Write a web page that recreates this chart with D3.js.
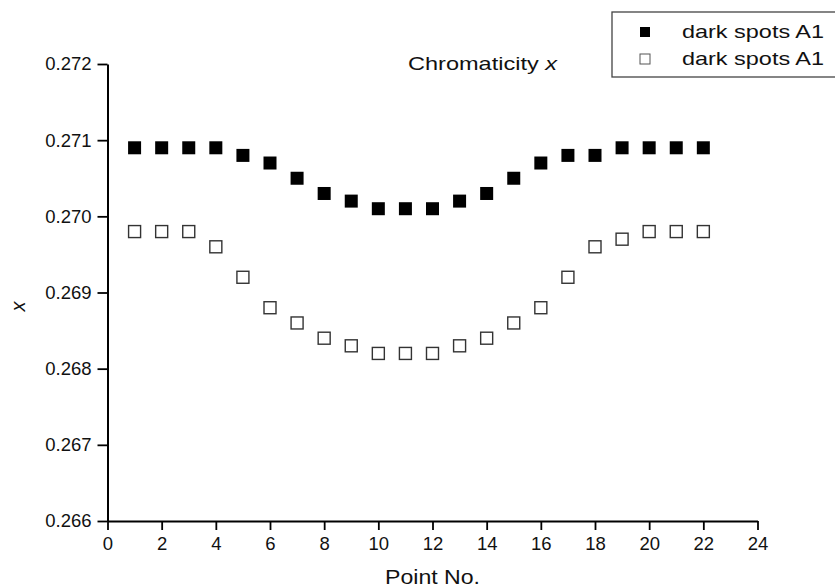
<!DOCTYPE html>
<html>
<head>
<meta charset="utf-8">
<script src="https://cdn.jsdelivr.net/npm/d3@7"></script>
<style>
  html, body { margin: 0; padding: 0; background: #fff; }
  svg { display: block; font-family: "Liberation Sans", Arial, sans-serif; }
</style>
</head>
<body>
<svg id="chart" width="835" height="588"></svg>
<script>
// Point numbers along the measured line
const points = [1,2,3,4,5,6,7,8,9,10,11,12,13,14,15,16,17,18,19,20,21,22];
// Chromaticity x, filled-square series
const filledX = [0.2709,0.2709,0.2709,0.2709,0.2708,0.2707,0.2705,0.2703,0.2702,0.2701,0.2701,
                 0.2701,0.2702,0.2703,0.2705,0.2707,0.2708,0.2708,0.2709,0.2709,0.2709,0.2709];
// Chromaticity x, open-square series
const openX = [0.2698,0.2698,0.2698,0.2696,0.2692,0.2688,0.2686,0.2684,0.2683,0.2682,0.2682,
               0.2682,0.2683,0.2684,0.2686,0.2688,0.2692,0.2696,0.2697,0.2698,0.2698,0.2698];
const seriesNames = ["dark spots A1", "dark spots A1"];
const xTicks = [0,2,4,6,8,10,12,14,16,18,20,22,24];
const yTicks = [0.266,0.267,0.268,0.269,0.270,0.271,0.272];

const svg = d3.select("#chart");

const x = d3.scaleLinear().domain([0, 24]).range([107.5, 757.5]);
const y = d3.scaleLinear().domain([0.266, 0.272]).range([521, 64]);

// X axis: major ticks every 2, minor ticks on odd numbers
const xMinor = d3.range(1, 24, 2);
const gx = svg.append("g").attr("transform", `translate(0,${y.range()[0]})`);
gx.call(d3.axisBottom(x).tickValues(xMinor).tickSize(5).tickFormat(""))
  .call(g => g.select(".domain").remove());
gx.call(d3.axisBottom(x).tickValues(xTicks).tickSize(9).tickSizeOuter(0).tickPadding(7).tickFormat(d3.format("d")));
gx.selectAll("line").attr("stroke", "#000").attr("stroke-width", 1.8);
gx.selectAll(".domain").attr("stroke", "#000").attr("stroke-width", 2);
gx.selectAll("text").attr("font-size", 18.5).attr("fill", "#111");

// Y axis: major ticks every 0.001, minor ticks halfway
const yMinor = d3.range(0.2665, 0.272, 0.001);
const gy = svg.append("g").attr("transform", `translate(${x.range()[0]},0)`);
gy.call(d3.axisLeft(y).tickValues(yMinor).tickSize(6).tickFormat(""))
  .call(g => g.select(".domain").remove());
gy.call(d3.axisLeft(y).tickValues(yTicks).tickSize(10).tickSizeOuter(0).tickPadding(6).tickFormat(d3.format(".3f")));
gy.selectAll("line").attr("stroke", "#000").attr("stroke-width", 1.8);
gy.selectAll(".domain").attr("stroke", "#000").attr("stroke-width", 2);
gy.selectAll("text").attr("font-size", 18.5).attr("fill", "#111");

// Axis titles
svg.append("text")
  .attr("x", 385)
  .attr("y", 584)
  .attr("font-size", 20)
  .attr("fill", "#111")
  .attr("textLength", 95)
  .attr("lengthAdjust", "spacingAndGlyphs")
  .text("Point No.");

svg.append("text")
  .attr("transform", `translate(25,${(y.range()[0] + y.range()[1]) / 2 + 14}) rotate(-90)`)
  .attr("text-anchor", "middle")
  .attr("font-size", 20)
  .attr("font-style", "italic")
  .attr("fill", "#111")
  .text("x");

// Panel title
const title = svg.append("text")
  .attr("x", 408)
  .attr("y", 70)
  .attr("font-size", 19)
  .attr("fill", "#111")
  .attr("textLength", 149)
  .attr("lengthAdjust", "spacingAndGlyphs");
title.append("tspan").text("Chromaticity ");
title.append("tspan").attr("font-style", "italic").text("x");

// Data markers
const filledData = points.map((p, i) => ({ p, v: filledX[i] }));
const openData = points.map((p, i) => ({ p, v: openX[i] }));

const fs = 13;
svg.append("g").selectAll("rect").data(filledData).join("rect")
  .attr("x", d => x(d.p) - fs / 2)
  .attr("y", d => y(d.v) - fs / 2)
  .attr("width", fs).attr("height", fs)
  .attr("fill", "#000");

const os = 12;
svg.append("g").selectAll("rect").data(openData).join("rect")
  .attr("x", d => x(d.p) - os / 2)
  .attr("y", d => y(d.v) - os / 2)
  .attr("width", os).attr("height", os)
  .attr("fill", "#fff")
  .attr("stroke", "#333")
  .attr("stroke-width", 1.4);

// Legend
const lg = svg.append("g");
lg.append("rect")
  .attr("x", 612).attr("y", 12)
  .attr("width", 240).attr("height", 65)
  .attr("fill", "#fff").attr("stroke", "#444").attr("stroke-width", 1.3);

const rows = [
  { y: 32, fill: "#000", stroke: "none", name: seriesNames[0] },
  { y: 59, fill: "#fff", stroke: "#555", name: seriesNames[1] }
];
rows.forEach(r => {
  lg.append("rect")
    .attr("x", 640).attr("y", r.y - 5)
    .attr("width", 10).attr("height", 10)
    .attr("fill", r.fill)
    .attr("stroke", r.stroke)
    .attr("stroke-width", 1);
  lg.append("text")
    .attr("x", 682).attr("y", r.y + 6)
    .attr("font-size", 19)
    .attr("fill", "#111")
    .attr("textLength", 142)
    .attr("lengthAdjust", "spacingAndGlyphs")
    .text(r.name);
});
</script>
</body>
</html>
